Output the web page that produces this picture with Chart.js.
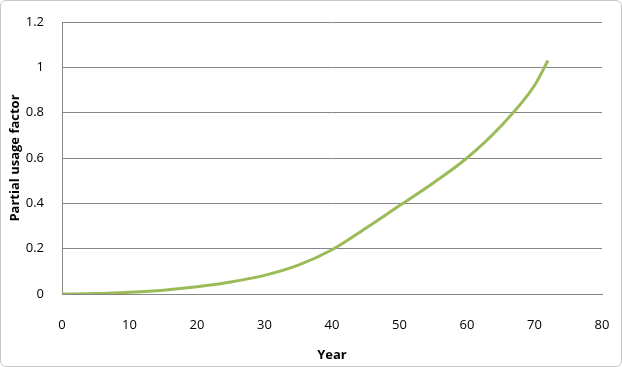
<!DOCTYPE html>
<html>
<head>
<meta charset="utf-8">
<script src="https://cdn.jsdelivr.net/npm/chart.js@4"></script>
<style>
  html, body { margin: 0; padding: 0; background: #fff; }
  #wrap { position: relative; width: 620px; height: 365px; border: 1px solid #c8c8c8; border-radius: 6px; overflow: hidden; }
  canvas { position: absolute; left: -1px; top: -1px; }
</style>
</head>
<body>
<div id="wrap"><canvas id="chart" width="622" height="367"></canvas></div>
<script>
// Datos
const years = [0, 5, 10, 15, 20, 25, 30, 35, 40, 45, 50, 55, 60, 65, 70, 72];
const usage = [0, 0.002, 0.008, 0.017, 0.032, 0.053, 0.082, 0.127, 0.195, 0.29, 0.39, 0.49, 0.6, 0.74, 0.92, 1.03];

const puntos = years.map((y, i) => ({ x: y, y: usage[i] }));

const fuente = "'Open Sans', 'Liberation Sans', sans-serif";

const ctx = document.getElementById('chart').getContext('2d');
new Chart(ctx, {
    type: 'scatter',
    data: {
        datasets: [{
            data: puntos,
            showLine: true,
            borderColor: '#9bbb59',
            borderWidth: 3,
            pointRadius: 0,
            tension: 0.4,
            cubicInterpolationMode: 'monotone'
        }]
    },
    options: {
        responsive: false,
        animation: false,
        plugins: { legend: { display: false }, tooltip: { enabled: false } },
        layout: { padding: { top: 22, right: 20, left: 0, bottom: 0 } },
        scales: {
            x: {
                type: 'linear',
                min: 0, max: 80,
                ticks: { stepSize: 10, color: '#000', font: { family: fuente, size: 13 }, padding: 23 },
                grid: { display: false, drawTicks: false },
                border: { color: '#868686', width: 1 },
                title: { display: true, text: 'Year', color: '#000', font: { family: fuente, size: 13, weight: 'bold' }, padding: { top: 6 } },
                afterFit: function(scale) {
                    scale.height = 73;
                    scale.paddingLeft = 0;
                    scale.paddingRight = 0;
                }
            },
            y: {
                min: 0, max: 1.2,
                ticks: { stepSize: 0.2, color: '#000', font: { family: fuente, size: 13 }, padding: 18,
                    callback: v => Math.round(v * 10) / 10 },
                grid: { color: '#868686', lineWidth: 1, drawTicks: false },
                border: { color: '#868686', width: 1 },
                title: { display: true, text: 'Partial usage factor', color: '#000', font: { family: fuente, size: 13, weight: 'bold' }, padding: { bottom: 0, top: 7 } },
                afterFit: function(scale) {
                    scale.width = 62;
                    scale.paddingTop = 0;
                    scale.paddingBottom = 0;
                }
            }
        }
    }
});
</script>
</body>
</html>
